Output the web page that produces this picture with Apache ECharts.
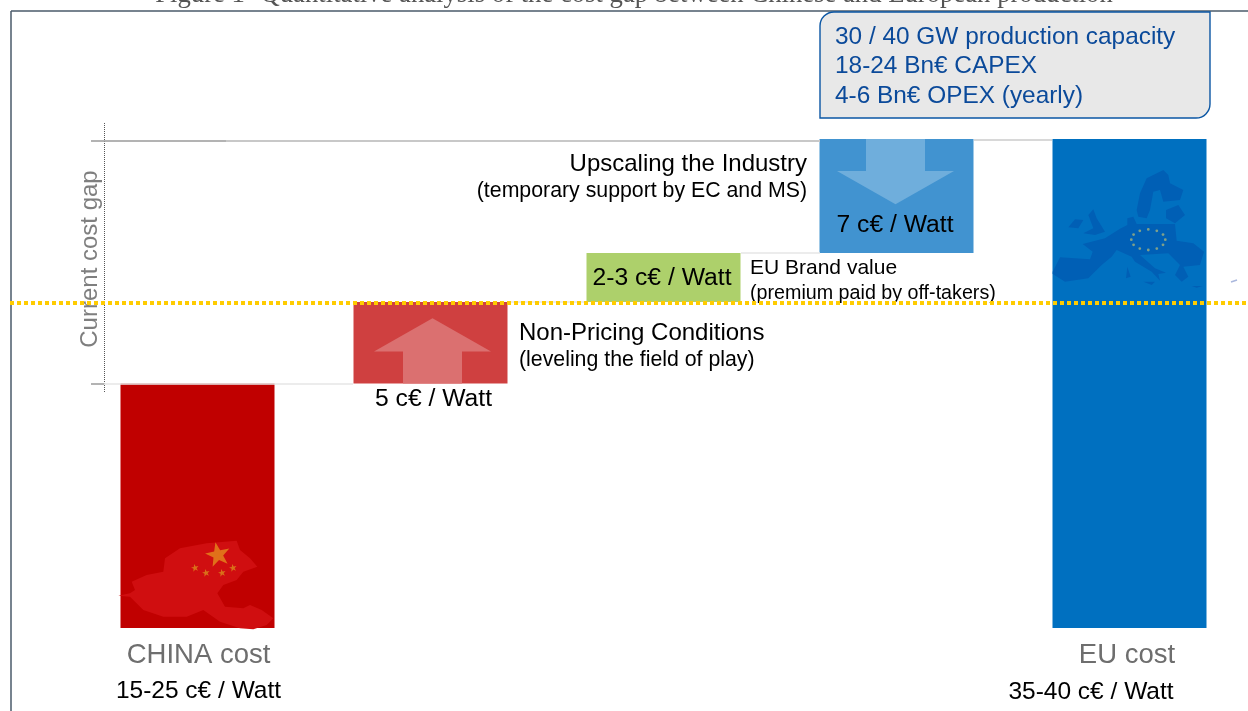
<!DOCTYPE html>
<html>
<head>
<meta charset="utf-8">
<title>Cost gap</title>
<style>
html,body{margin:0;padding:0;background:#fff;overflow:hidden;}
#chart{width:1248px;height:711px;}
</style>
<script src="https://cdn.jsdelivr.net/npm/echarts@6/dist/echarts.min.js"></script>
</head>
<body>
<div id="chart"></div>
<script>
//数据
var categories=['CHINA cost','Non-Pricing Conditions','EU Brand value','Upscaling the Industry','EU cost'];
var tickLabels=['{china|CHINA cost}','','','','{eu|EU cost}'];
var baseValues=[0,15,20,23,0];
var costValues=[15,5,3,7,30];
var gapLabels=['','5 c€ / Watt','2-3 c€ / Watt','7 c€ / Watt',''];
var arrowCategories=[1,3];
var arrowFrom=[15,30];
var arrowTo=[19,26];
var parityValue=19.93;
var boxLines=['30 / 40 GW production capacity','18-24 Bn€ CAPEX','4-6 Bn€ OPEX (yearly)'];

var font='"Liberation Sans",Arial,sans-serif';
var barColors=['#C00000','#CF4040','#ADD06B','#4193D0','#0070C0'];
var arrowColors=['#DB7070','#6FAEDC'];
var arrowNudge=[2,-1];

//文字
function txt(str,x,y,size,color,align,extra){
	var o={
		type:'text',
		z:20,
		silent:true,
		x:x,
		y:y,
		style:{
			text:str,
			fontFamily:font,
			fontSize:size,
			fill:color||'#000',
			align:align||'left',
			verticalAlign:'middle'
		}
	};
	if(extra){
		for(var k in extra){o[k]=extra[k];}
	}
	return o;
}
//地图轮廓，坐标取自放大图
function mapShape(points,ox,oy,color){
	return {
		type:'polygon',
		z:5,
		silent:true,
		shape:{points:points.map(function(p){return [ox+p[0]/3,oy+p[1]/3];})},
		style:{fill:color}
	};
}
function star(cx,cy,r,color){
	var pts=[];
	for(var i=0;i<10;i++){
		var a=-Math.PI/2+i*Math.PI/5-0.2;
		var rr=i%2?r*0.4:r;
		pts.push([cx+rr*Math.cos(a),cy+rr*Math.sin(a)]);
	}
	return {type:'polygon',z:6,silent:true,shape:{points:pts},style:{fill:color}};
}

var chinaMap=[[65,155],[110,135],[160,125],[165,85],[210,55],[290,40],[380,32],[390,60],[420,85],[442,110],[400,125],[380,150],[340,165],[322,190],[345,230],[400,235],[420,225],[455,240],[490,265],[470,285],[430,298],[390,295],[330,275],[280,240],[230,260],[160,260],[100,240],[60,200],[25,197],[60,190],[75,180]];
var euMaps=[
	[[38,365],[60,322],[150,328],[158,305],[128,282],[195,265],[240,236],[262,225],[262,205],[280,200],[290,222],[405,222],[410,272],[460,280],[492,305],[480,345],[430,350],[445,380],[425,395],[405,375],[420,345],[385,310],[300,315],[345,355],[378,368],[355,372],[360,392],[335,365],[285,335],[275,320],[230,300],[215,320],[185,345],[145,385],[75,395],[38,372]],
	[[295,200],[290,180],[300,130],[320,85],[370,60],[385,75],[390,100],[430,120],[420,150],[370,155],[360,120],[340,125],[330,180],[320,205]],
	[[378,180],[415,165],[435,195],[405,220],[378,205]],
	[[130,250],[160,235],[145,195],[160,178],[170,205],[195,245],[165,255]],
	[[85,232],[105,208],[130,210],[115,235]],
	[[258,385],[262,350],[272,380]],
	[[310,395],[345,395],[335,405]],
	[[455,408],[488,408],[470,413]]
];

var titleText=txt('Figure 1- Quantitative analysis of the cost gap between Chinese and European production',634,-5,26.7,'#555','center');
titleText.style.fontFamily='"Liberation Serif",serif';

var graphics=[
	titleText,
	{type:'line',z:1,silent:true,shape:{x1:11,y1:11,x2:1248,y2:11},style:{stroke:'#4A5A6A',lineWidth:1.5}},
	{type:'line',z:1,silent:true,shape:{x1:11,y1:11,x2:11,y2:711},style:{stroke:'#4A5A6A',lineWidth:1.5}},
	{type:'line',z:1,silent:true,shape:{x1:104.5,y1:123,x2:104.5,y2:393},style:{stroke:'#555',lineWidth:1,lineDash:[1,1]}},
	{type:'rect',z:4,silent:true,shape:{x:820,y:12,width:390,height:106,r:[14,0,14,0]},style:{fill:'#E8E8E8',stroke:'#0A56A4',lineWidth:1.4}},
	txt(boxLines[0],835,37,24.4,'#0B4A9A'),
	txt(boxLines[1],835,66,24.4,'#0B4A9A'),
	txt(boxLines[2],835,96,24.4,'#0B4A9A'),
	txt('Current cost gap',90,259,24,'#7F7F7F','center',{rotation:Math.PI/2}),
	txt('Upscaling the Industry',807,164,24,'#000','right'),
	txt('(temporary support by EC and MS)',807,191,21.3,'#000','right'),
	txt('EU Brand value',750,268,21),
	txt('(premium paid by off-takers)',750,294,19.7),
	txt('Non-Pricing Conditions',519,333,24),
	txt('(leveling the field of play)',519,360,21.3),
	txt('15-25 c€ / Watt',198.5,691,24.5,'#000','center'),
	txt('35-40 c€ / Watt',1091,692,24.5,'#000','center'),
	mapShape(chinaMap,110,530,'#D00E10'),
	star(218,555,13,'#E0701A'),
	star(195,568,4,'#D9701A'),
	star(206,573,4,'#D9701A'),
	star(222,573,4,'#D9701A'),
	star(233,568,4,'#D9701A'),
	{type:'line',z:6,silent:true,shape:{x1:1231,y1:282,x2:1237,y2:280},style:{stroke:'#AAB8DD',lineWidth:1.5}}
];
euMaps.forEach(function(m){
	graphics.push(mapShape(m,1040,150,'#005FB5'));
});
for(var i=0;i<12;i++){
	var a=i*Math.PI/6;
	graphics.push({type:'circle',z:6,silent:true,shape:{cx:1148.3+17*Math.cos(a),cy:239.7+10.3*Math.sin(a),r:1.4},style:{fill:'#7FA08A'}});
}

//连接线
function hLine(x1,x2,v,color,w){
	return [{x:x1,yAxis:v,lineStyle:{color:color,width:w||1.5,type:'solid'}},{x:x2,yAxis:v}];
}

var myChart=echarts.init(document.getElementById('chart'));
myChart.setOption({
	animation:false,
	textStyle:{fontFamily:font},
	grid:{left:81,width:1165,top:139,height:489,containLabel:false},
	xAxis:{
		type:'category',
		data:categories,
		axisLine:{show:false},
		axisTick:{show:false},
		axisLabel:{
			interval:0,
			margin:13,
			formatter:function(v,i){return tickLabels[i];},
			rich:{
				china:{fontSize:27.5,fontFamily:font,color:'#6E6E6E',padding:[0,0,0,2]},
				eu:{fontSize:27.5,fontFamily:font,color:'#6E6E6E',padding:[0,5,0,0]}
			}
		}
	},
	yAxis:{type:'value',min:0,max:30,show:false},
	graphic:{elements:graphics},
	series:[
		{
			name:'base',
			type:'bar',
			stack:'cost',
			barWidth:154,
			silent:true,
			itemStyle:{color:'transparent'},
			data:baseValues,
			markLine:{
				silent:true,
				symbol:'none',
				z:3,
				label:{show:false},
				data:[
					hLine(91,226,29.88,'#9A9A9A'),
					hLine(226,820,29.88,'#C8C8C8',2),
					hLine(974,1052,29.93,'#D8D8D8',2),
					hLine(91,104,15,'#9A9A9A'),
					hLine(104,353,15,'#E6E6E6'),
					hLine(507,587,20,'#E6E6E6'),
					hLine(741,820,23,'#E6E6E6')
				]
			}
		},
		{
			name:'cost',
			type:'bar',
			stack:'cost',
			barWidth:154,
			silent:true,
			z:2,
			data:costValues.map(function(v,i){
				var label={show:gapLabels[i]!=='',formatter:gapLabels[i],fontFamily:font,fontSize:24.7,color:'#000'};
				if(i===1){label.position='bottom';label.distance=3;label.offset=[3,0];}
				if(i===2){label.position='inside';label.offset=[-1.5,1];}
				if(i===3){label.position='insideBottom';label.distance=15;label.offset=[-1.5,0];}
				return {value:v,itemStyle:{color:barColors[i]},label:label};
			}),
			markLine:{
				silent:true,
				symbol:'none',
				z:30,
				label:{show:false},
				lineStyle:{color:'#FFCC00',width:4,type:[4,3]},
				data:[[{x:10,yAxis:parityValue},{x:1248,yAxis:parityValue}]]
			}
		},
		{
			name:'arrow',
			type:'custom',
			silent:true,
			z:4,
			data:arrowCategories.map(function(c,i){return [c,arrowFrom[i],arrowTo[i]];}),
			renderItem:function(params,api){
				var start=api.coord([api.value(0),api.value(1)]);
				var tip=api.coord([api.value(0),api.value(2)]);
				var neck=start[1]+(tip[1]-start[1])*0.49;
				var cx=start[0]+arrowNudge[params.dataIndex];
				return {
					type:'polygon',
					shape:{points:[
						[cx-29.5,start[1]],[cx+29.5,start[1]],[cx+29.5,neck],[cx+58.5,neck],
						[cx,tip[1]],[cx-58.5,neck],[cx-29.5,neck]
					]},
					style:{fill:arrowColors[params.dataIndex]}
				};
			}
		}
	]
});
</script>
</body>
</html>
